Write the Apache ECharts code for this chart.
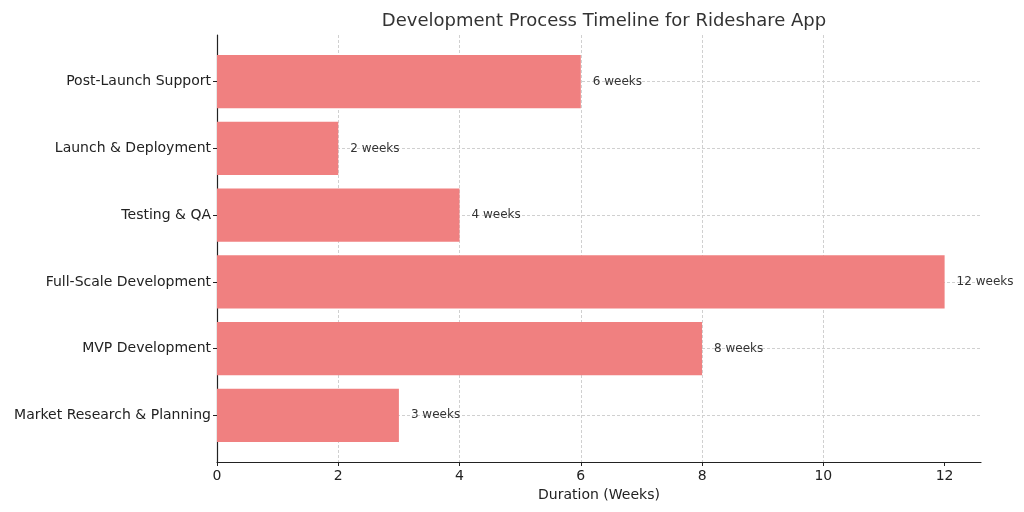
<!DOCTYPE html>
<html>
<head>
<meta charset="utf-8">
<script src="https://cdn.jsdelivr.net/npm/echarts@6/dist/echarts.min.js"></script>
<style>
  html, body { margin: 0; padding: 0; background: #fff; }
  #chart { width: 1024px; height: 512px; }
</style>
</head>
<body>
<div id="chart"></div>
<script>
// stages from bottom to top
var stages = ['Market Research & Planning', 'MVP Development', 'Full-Scale Development',
  'Testing & QA', 'Launch & Deployment', 'Post-Launch Support']
var weeks = [3, 8, 12, 4, 2, 6]
var xTicks = [0, 2, 4, 6, 8, 10, 12]

var font = 'DejaVu Sans, sans-serif'
var axisColor = '#222'
var gridLine = { color: '#d0d0d0', type: [3, 2], width: 1 }

var chart = echarts.init(document.getElementById('chart'))
var option = {
  animation: false,
  title: {
    text: 'Development Process Timeline for Rideshare App',
    left: 599,
    textAlign: 'center',
    top: 7,
    textStyle: { fontFamily: font, fontSize: 18, fontWeight: 'normal', color: '#333' }
  },
  // grid 0: frame, x ticks, spines; grid 1: bars with a bit more padding like matplotlib
  grid: [
    { left: 217, right: 43, top: 35, bottom: 50 },
    { left: 217, right: 43, top: 48.3, bottom: 63.3 }
  ],
  xAxis: [{
    gridIndex: 0,
    type: 'value',
    min: 0,
    max: 12.6,
    interval: 2,
    name: 'Duration (Weeks)',
    nameLocation: 'middle',
    nameGap: 17,
    nameTextStyle: { fontFamily: font, fontSize: 14, color: axisColor },
    axisLine: { show: true, lineStyle: { color: axisColor, width: 1.2 } },
    axisTick: { show: true, length: 4, customValues: xTicks, lineStyle: { color: axisColor } },
    axisLabel: {
      fontFamily: font, fontSize: 14, color: axisColor, margin: 7,
      customValues: xTicks
    },
    splitLine: { show: true, showMaxLine: false, lineStyle: gridLine }
  }, {
    gridIndex: 1,
    type: 'value',
    min: 0,
    max: 12.6,
    show: false
  }],
  yAxis: [{
    gridIndex: 0,
    type: 'value',
    min: 0,
    max: 1,
    axisLine: { show: true, lineStyle: { color: axisColor, width: 1.2 } },
    axisTick: { show: false },
    axisLabel: { show: false },
    splitLine: { show: false }
  }, {
    gridIndex: 1,
    type: 'category',
    data: stages,
    axisLine: { show: false },
    axisTick: { show: true, length: 4, alignWithLabel: true, lineStyle: { color: axisColor } },
    axisLabel: { fontFamily: font, fontSize: 14, color: axisColor, margin: 6 },
    splitLine: { show: false }
  }],
  series: [{
    type: 'bar',
    xAxisIndex: 1,
    yAxisIndex: 1,
    barWidth: '80%',
    itemStyle: { color: '#F08080' },
    data: weeks,
    label: {
      show: true,
      position: 'right',
      distance: 12,
      fontFamily: font,
      fontSize: 12,
      color: '#333',
      formatter: function (p) { return p.value + ' weeks' }
    },
    markLine: {
      silent: true,
      z: 1,
      symbol: 'none',
      label: { show: false },
      lineStyle: gridLine,
      data: stages.map(function (s) { return { yAxis: s } })
    }
  }]
}
chart.setOption(option)
</script>
</body>
</html>
